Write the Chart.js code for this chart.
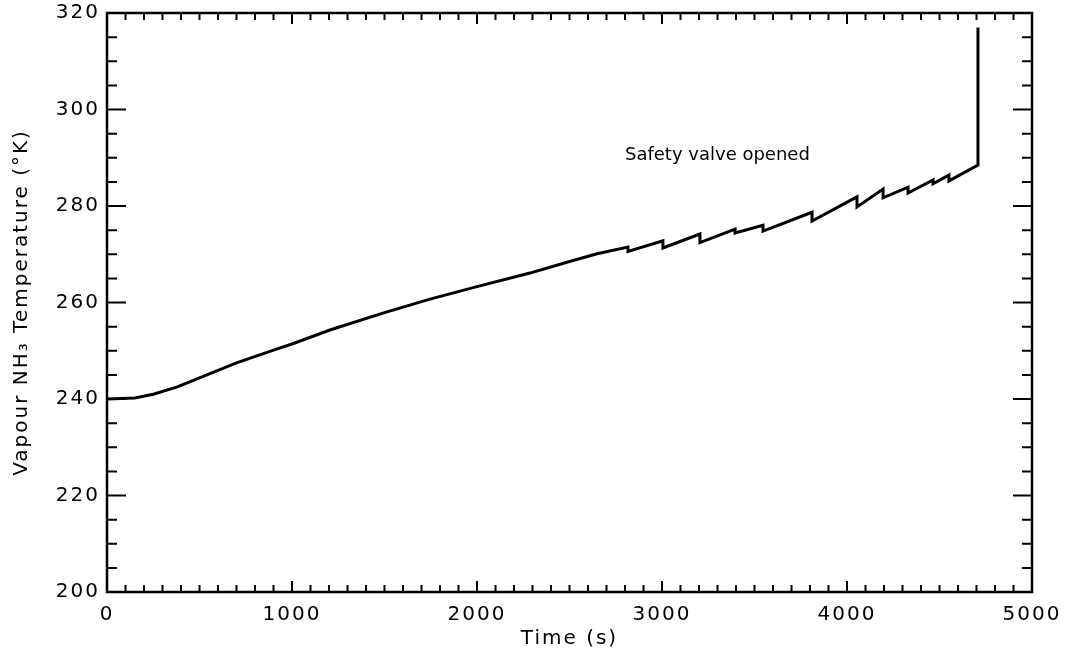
<!DOCTYPE html>
<html>
<head>
<meta charset="utf-8">
<script src="https://cdn.jsdelivr.net/npm/chart.js@4"></script>
<style>
html,body{margin:0;padding:0;background:#fff;}
#wrap{width:1067px;height:655px;position:relative;}
</style>
</head>
<body>
<div id="wrap"><canvas id="c" width="1067" height="655"></canvas></div>
<script>
// Time (s)
const times = [0, 150, 250, 380, 540, 700, 920, 1000, 1205, 1500, 1746, 2000, 2286, 2500, 2649,
  2816, 2816, 3005, 3005, 3205, 3205, 3395, 3395, 3546, 3546, 3811, 3811,
  4054, 4054, 4195, 4195, 4330, 4330, 4465, 4465, 4551, 4551, 4708, 4708];
// Vapour NH3 temperature (K)
const temps = [240, 240.2, 241, 242.5, 245, 247.5, 250.4, 251.4, 254.3, 257.9, 260.7, 263.3, 266.1, 268.5, 270.1,
  271.5, 270.6, 272.8, 271.3, 274.2, 272.4, 275.2, 274.4, 276, 274.8, 278.7, 276.9,
  281.9, 279.8, 283.5, 281.7, 283.9, 282.7, 285.4, 284.6, 286.4, 285.2, 288.5, 317];
const xTickLabels = [0, 1000, 2000, 3000, 4000, 5000];
const yTickLabels = [200, 220, 240, 260, 280, 300, 320];
const annotationText = "Safety valve opened";
const annotationAt = {x: 2800, y: 290.6};

const points = times.map((t, i) => ({x: t, y: temps[i]}));

const framePlugin = {
  id: 'frame',
  beforeDraw(chart) { chart.ctx.letterSpacing = '2px'; },
  afterDraw(chart) {
    const ctx = chart.ctx;
    const a = chart.chartArea;
    const xs = chart.scales.x, ys = chart.scales.y;
    ctx.save();
    ctx.letterSpacing = '0px';
    ctx.strokeStyle = '#000';
    ctx.lineWidth = 2.5;
    ctx.strokeRect(a.left, a.top, a.right - a.left, a.bottom - a.top);
    ctx.lineWidth = 2;
    ctx.beginPath();
    for (let v = 100; v < 5000; v += 100) {
      const px = xs.getPixelForValue(v);
      const len = (v % 1000 === 0) ? 11 : 7;
      ctx.moveTo(px, a.bottom); ctx.lineTo(px, a.bottom - len);
      ctx.moveTo(px, a.top); ctx.lineTo(px, a.top + len);
    }
    for (let v = 205; v < 320; v += 5) {
      const py = ys.getPixelForValue(v);
      const len = (v % 20 === 0) ? 19 : 10;
      ctx.moveTo(a.left, py); ctx.lineTo(a.left + len, py);
      ctx.moveTo(a.right, py); ctx.lineTo(a.right - len, py);
    }
    ctx.stroke();
    ctx.fillStyle = '#000';
    ctx.font = '18px "DejaVu Sans"';
    ctx.textAlign = 'left';
    ctx.textBaseline = 'middle';
    ctx.fillText(annotationText, xs.getPixelForValue(annotationAt.x), ys.getPixelForValue(annotationAt.y));
    ctx.restore();
  }
};

new Chart(document.getElementById('c'), {
  type: 'line',
  data: {
    datasets: [{
      data: points,
      borderColor: '#000',
      borderWidth: 3,
      pointRadius: 0,
      tension: 0,
      fill: false
    }]
  },
  options: {
    responsive: false,
    animation: false,
    devicePixelRatio: 1,
    layout: {padding: {top: 13, right: 35, left: 0, bottom: 0}},
    plugins: {legend: {display: false}, tooltip: {enabled: false}},
    scales: {
      x: {
        type: 'linear', min: 0, max: 5000,
        afterFit(s) { s.height = 63; s.paddingLeft = 0; s.paddingRight = 0; },
        afterBuildTicks(s) { s.ticks = xTickLabels.map(v => ({value: v})); },
        grid: {display: false, drawTicks: false, tickLength: 0},
        border: {display: false},
        ticks: {color: '#000', font: {family: 'DejaVu Sans', size: 20}, padding: 11, maxRotation: 0,
                callback: v => String(v)},
        title: {display: true, text: 'Time (s)', color: '#000', font: {family: 'DejaVu Sans', size: 20}, padding: {top: 0, bottom: 4}}
      },
      y: {
        type: 'linear', min: 200, max: 320,
        afterFit(s) { s.width = 107; s.paddingTop = 0; s.paddingBottom = 0; },
        afterBuildTicks(s) { s.ticks = yTickLabels.map(v => ({value: v})); },
        grid: {display: false, drawTicks: false, tickLength: 0},
        border: {display: false},
        ticks: {color: '#000', font: {family: 'DejaVu Sans', size: 20}, padding: 7,
                callback: v => String(v)},
        title: {display: true, text: 'Vapour NH\u2083 Temperature (\u00B0K)', color: '#000', font: {family: 'DejaVu Sans', size: 20}, padding: {top: 10, bottom: 0}}
      }
    }
  },
  plugins: [framePlugin]
});
</script>
</body>
</html>
